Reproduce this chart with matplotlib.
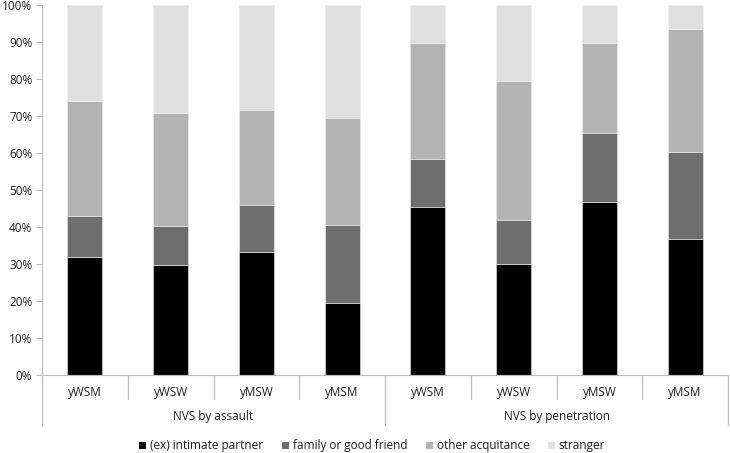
import matplotlib
matplotlib.use('Agg')
import matplotlib.pyplot as plt
from matplotlib.patches import Patch
import numpy as np

plt.rcParams['font.family'] = ['Open Sans', 'DejaVu Sans']

# 数据（各段百分比）
categories = ['yWSM', 'yWSW', 'yMSW', 'yMSM', 'yWSM', 'yWSW', 'yMSW', 'yMSM']
groups = ['NVS by assault', 'NVS by penetration']
intimate = [31.8, 29.5, 33.2, 19.4, 45.4, 29.9, 46.7, 36.8]
family = [11.2, 10.7, 12.7, 21.1, 12.8, 11.8, 18.6, 23.3]
acquaintance = [30.9, 30.5, 25.6, 28.9, 31.4, 37.8, 24.4, 33.3]
stranger = [26.1, 29.3, 28.5, 30.6, 10.4, 20.5, 10.3, 6.6]
series_labels = ['(ex) intimate partner', 'family or good friend', 'other acquitance', 'stranger']
colors = ['#000000', '#6E6E6E', '#B3B3B3', '#E0E0E0']

fig = plt.figure(figsize=(7.3, 4.53), dpi=100)
ax = fig.add_axes([42 / 730, 1 - 374.5 / 453, 686 / 730, 369.5 / 453])

x = np.arange(len(categories))
bottom = np.zeros(len(categories))
for vals, color in zip([intimate, family, acquaintance, stranger], colors):
    ax.bar(x, vals, width=0.41, bottom=bottom, color=color, edgecolor='#EEEEEE', linewidth=0.4)
    bottom += np.array(vals)

ax.set_xlim(-0.5, len(categories) - 0.5)
ax.set_ylim(0, 100)
ax.set_yticks(np.arange(0, 101, 10))
ax.set_yticklabels([f'{v}%' for v in range(0, 101, 10)], fontsize=8.5, color='#1A1A1A')
ax.tick_params(axis='y', direction='out', length=4, color='#BBBBBB', pad=3)
ax.set_xticks([])
for s in ['top', 'right']:
    ax.spines[s].set_visible(False)
ax.spines['left'].set_color('#BBBBBB')
ax.spines['bottom'].set_color('#BBBBBB')

# 分类轴下方的分隔线和标签
tr = ax.get_xaxis_transform()
for i in range(len(categories) + 1):
    b = i - 0.5
    depth = -0.137 if i % 4 == 0 else -0.066
    ax.plot([b, b], [0, depth], transform=tr, color='#BBBBBB', lw=0.9, clip_on=False)
for i, c in enumerate(categories):
    ax.text(i, -0.048, c, transform=tr, ha='center', va='center', fontsize=8.5, color='#1A1A1A')
for g, name in enumerate(groups):
    ax.text(g * 4 + 1.5, -0.115, name, transform=tr, ha='center', va='center', fontsize=8.5, color='#1A1A1A')

handles = [Patch(facecolor=c, edgecolor='none') for c in colors]
fig.legend(handles, series_labels, ncol=4, loc='center', bbox_to_anchor=(0.51, 1 - 446 / 453),
           frameon=False, fontsize=8.5, handlelength=0.6, handleheight=0.6,
           handletextpad=0.3, columnspacing=1.6, labelcolor='#1A1A1A')

plt.savefig('out.png', dpi=100)
plt.close()
